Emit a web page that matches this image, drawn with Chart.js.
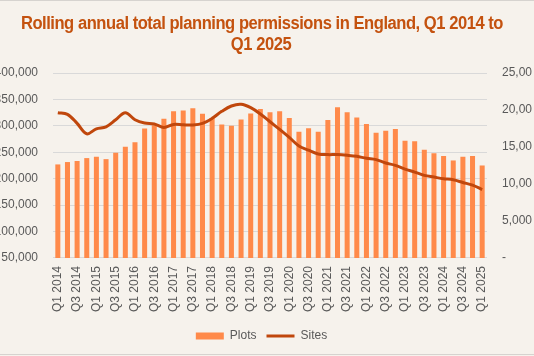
<!DOCTYPE html>
<html>
<head>
<meta charset="utf-8">
<script src="https://cdn.jsdelivr.net/npm/chart.js@4/dist/chart.umd.min.js"></script>
<style>
  html, body { margin: 0; padding: 0; width: 534px; height: 356px; overflow: hidden; background: #F6F2EC; }
  #frame { position: absolute; left: 0; top: 0; width: 534px; height: 353px; border-top: 1px solid #D6D3CF; border-bottom: 1px solid #D6D3CF; box-sizing: content-box; }
  #wrap { position: absolute; left: -9px; top: 0; width: 541px; height: 356px; }
  #title { position: absolute; left: 0; top: 13px; width: 522px; text-align: center; white-space: nowrap;
           font-family: 'Liberation Sans', Arial, sans-serif; font-weight: bold; font-size: 18px;
           line-height: 20.5px; letter-spacing: -0.5px; color: #C4520F;
           transform: scaleX(0.92); transform-origin: 261px 0; }
</style>
</head>
<body>
<div id="frame"></div>
<div id="wrap"><canvas id="c"></canvas></div>
<div id="title"></div>
<script>
const categories = [
  "Q1 2014","Q2 2014","Q3 2014","Q4 2014",
  "Q1 2015","Q2 2015","Q3 2015","Q4 2015",
  "Q1 2016","Q2 2016","Q3 2016","Q4 2016",
  "Q1 2017","Q2 2017","Q3 2017","Q4 2017",
  "Q1 2018","Q2 2018","Q3 2018","Q4 2018",
  "Q1 2019","Q2 2019","Q3 2019","Q4 2019",
  "Q1 2020","Q2 2020","Q3 2020","Q4 2020",
  "Q1 2021","Q2 2021","Q3 2021","Q4 2021",
  "Q1 2022","Q2 2022","Q3 2022","Q4 2022",
  "Q1 2023","Q2 2023","Q3 2023","Q4 2023",
  "Q1 2024","Q2 2024","Q3 2024","Q4 2024",
  "Q1 2025"
];

const plots = [
  227000, 231500, 233500, 239000,
  241500, 237000, 249000, 260500,
  269000, 295000, 301000, 313500,
  327500, 329000, 333500, 323000,
  315000, 302500, 300000, 312000,
  323500, 332000, 325500, 327500,
  315000, 289000, 295500, 289000,
  311000, 335000, 325500, 316000,
  303500, 287000, 290500, 294000,
  272000, 271000, 255000, 248000,
  243000, 234500, 241500, 243000,
  225000
];

const sites = [
  19630, 19410, 18190, 16780,
  17460, 17730, 18680, 19630,
  18680, 18230, 18100, 17640,
  18050, 18000, 17980, 18190,
  18870, 19820, 20540, 20770,
  20310, 19460, 18410, 17370,
  16290, 15140, 14560, 14050,
  13970, 13970, 13880, 13740,
  13470, 13290, 12830, 12520,
  12010, 11610, 11160, 10930,
  10710, 10570, 10200, 9840,
  9250
];

const titleLines = ["Rolling annual total planning permissions in England, Q1 2014 to", "Q1 2025"];
const seriesNames = ["Plots", "Sites"];

document.getElementById('title').innerHTML = titleLines.join('<br>');

const fmt = v => Number(v).toLocaleString('en-US');
const tickFont = { family: "'Liberation Sans', Arial, sans-serif", size: 12 };
const tickColor = '#595959';

new Chart(document.getElementById('c'), {
  data: {
    labels: categories,
    datasets: [
      {
        type: 'bar',
        label: seriesNames[0],
        data: plots,
        backgroundColor: '#FF8A4A',
        borderWidth: 0,
        yAxisID: 'y',
        order: 1,
        categoryPercentage: 1.0,
        barPercentage: 0.52,
        pointStyle: 'rect'
      },
      {
        type: 'line',
        label: seriesNames[1],
        data: sites,
        borderColor: '#C0470C',
        backgroundColor: '#C0470C',
        borderWidth: 3,
        pointRadius: 0,
        tension: 0.35,
        yAxisID: 'y1',
        order: 0,
        pointStyle: 'line'
      }
    ]
  },
  options: {
    responsive: true,
    maintainAspectRatio: false,
    animation: false,
    layout: { padding: { left: 0, right: 0, top: 73, bottom: 4 } },
    plugins: {
      title: { display: false },
      legend: {
        position: 'bottom',
        labels: {
          usePointStyle: true,
          pointStyleWidth: 28,
          boxWidth: 28,
          boxHeight: 7,
          color: tickColor,
          font: tickFont,
          padding: 10,
          sort: (a, b) => a.datasetIndex - b.datasetIndex
        }
      },
      tooltip: { enabled: false }
    },
    scales: {
      x: {
        grid: { display: false, drawTicks: false },
        border: { display: false },
        ticks: {
          autoSkip: false,
          maxRotation: 90,
          minRotation: 90,
          padding: 8,
          color: tickColor,
          font: tickFont,
          callback: function(v, i) { return i % 2 === 0 ? categories[i] : ''; }
        }
      },
      y: {
        position: 'left',
        min: 50000,
        max: 400000,
        ticks: { stepSize: 50000, padding: 15, color: tickColor, font: tickFont, callback: v => fmt(v) },
        grid: { color: '#D9D9D9', lineWidth: 1, drawTicks: false },
        border: { display: false },
        afterFit: s => { s.width = 62; }
      },
      y1: {
        position: 'right',
        min: 0,
        max: 25000,
        ticks: { stepSize: 5000, padding: 15, color: tickColor, font: tickFont, callback: v => v === 0 ? '-' : fmt(v) },
        grid: { display: false, drawTicks: false },
        border: { display: false },
        afterFit: s => { s.width = 45; }
      }
    }
  }
});
</script>
</body>
</html>
